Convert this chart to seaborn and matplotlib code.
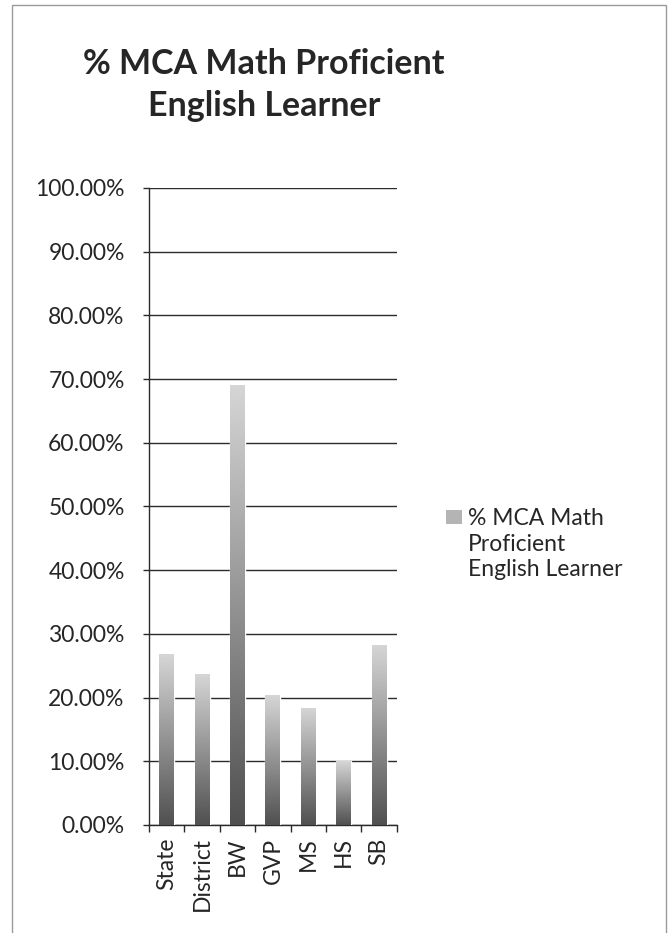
import numpy as np
import pandas as pd
import seaborn as sns
import matplotlib.pyplot as plt
from matplotlib.ticker import PercentFormatter, MultipleLocator, FixedLocator
from matplotlib.patches import Patch, Rectangle
from matplotlib.colors import LinearSegmentedColormap

# data
schools = ["State", "District", "BW", "GVP", "MS", "HS", "SB"]
pct_proficient = [0.268, 0.237, 0.691, 0.204, 0.184, 0.100, 0.283]
series_name = "% MCA Math Proficient English Learner"
legend_lines = ["% MCA Math", "Proficient", "English Learner"]

sns.set_style('white')
plt.rcParams['font.family'] = ['Lato', 'DejaVu Sans']

fig = plt.figure(figsize=(6.68, 9.33), dpi=100)
ax = fig.add_axes([0.223, 0.1158, 0.371, 0.6827])

df = pd.DataFrame({'school': schools, 'pct': pct_proficient})
sns.barplot(data=df, x='school', y='pct', color='#9a9a9a', width=0.42,
            ax=ax, zorder=3)

# grey gradient fill, dark at the bottom and light at the top
cmap = LinearSegmentedColormap.from_list('bar_grey', ['#505050', '#d6d6d6'])
grad = np.linspace(0, 1, 256).reshape(-1, 1)
for p in ax.patches:
    x0, y0 = p.get_x(), p.get_y()
    x1, y1 = x0 + p.get_width(), y0 + p.get_height()
    im = ax.imshow(grad, extent=[x0, x1, y0, y1], origin='lower',
                   aspect='auto', cmap=cmap, zorder=4)
    im.set_clip_path(p)

ax.set_xlim(-0.5, len(schools) - 0.5)
ax.set_ylim(0, 1)
ax.yaxis.set_major_locator(MultipleLocator(0.1))
ax.yaxis.set_major_formatter(PercentFormatter(1, decimals=2))
ax.grid(axis='y', color='#2a2a2a', lw=1.0, zorder=0)
ax.set_axisbelow(True)
ax.set_xlabel('')
ax.set_ylabel('')

for s in ['top', 'right']:
    ax.spines[s].set_visible(False)
for s in ['left', 'bottom']:
    ax.spines[s].set_color('#2a2a2a')
    ax.spines[s].set_linewidth(1.0)

ax.tick_params(axis='y', direction='out', length=4.5, width=1, color='#2a2a2a',
               labelsize=16.5, pad=13, left=True)
ax.tick_params(axis='x', which='major', length=0, labelsize=16.5, pad=9,
               labelrotation=90)
ax.xaxis.set_minor_locator(FixedLocator(np.arange(-0.5, len(schools), 1)))
ax.tick_params(axis='x', which='minor', direction='out', length=5, width=1,
               color='#2a2a2a', bottom=True)

fig.text(0.395, 1 - 85 / 933, "% MCA Math Proficient\nEnglish Learner",
         ha='center', va='center', fontsize=24.5, fontweight='bold',
         linespacing=1.42)

handles = [Patch(facecolor='#b4b4b4', edgecolor='none'),
           Patch(facecolor='none', edgecolor='none'),
           Patch(facecolor='none', edgecolor='none')]
ax.legend(handles, legend_lines, loc='upper left',
          bbox_to_anchor=(446 / 668, 1 - 508 / 933),
          bbox_transform=fig.transFigure, frameon=False, fontsize=16.5,
          handlelength=0.7, handleheight=0.55, handletextpad=0.25,
          labelspacing=0.2, borderpad=0, borderaxespad=0)

# outer chart frame
fig.patches.append(Rectangle((12 / 668, -0.1), 654 / 668, 1.1 - 5 / 933,
                             transform=fig.transFigure, fill=False,
                             edgecolor='#9a9a9a', lw=1))

fig.savefig('out.png', dpi=100)
